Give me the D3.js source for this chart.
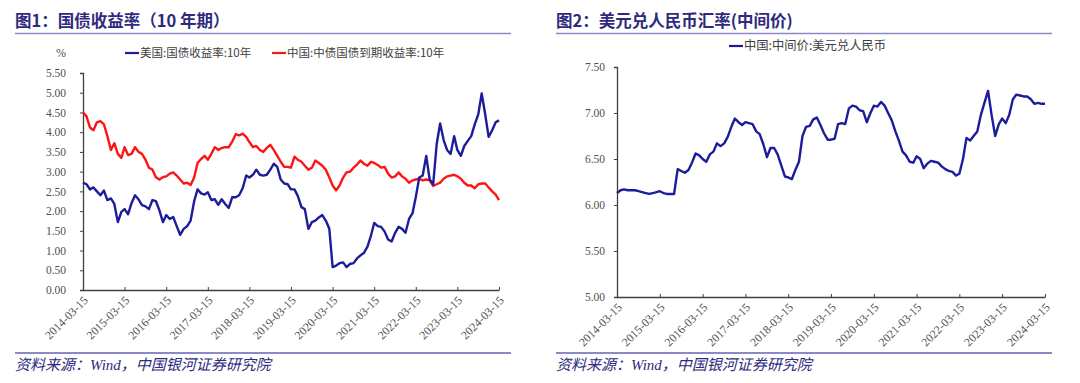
<!DOCTYPE html>
<html><head><meta charset="utf-8">
<script src="https://cdn.jsdelivr.net/npm/d3@7"></script>
<style>
body{margin:0;background:#fff;}
svg{display:block;}
</style></head>
<body><svg id="c" width="1080" height="383"></svg>
<script>
// ---------- data (monthly, mid-month, 2014-03 .. 2024-03) ----------
const startMonth = "2014-03-15";
const usYield = [
 2.72,2.68,2.55,2.60,2.50,2.40,2.52,2.28,2.32,2.18,
 1.72,1.98,2.05,1.92,2.20,2.40,2.30,2.15,2.12,2.05,2.28,2.25,
 2.02,1.72,1.90,1.80,1.85,1.62,1.40,1.55,1.62,1.76,2.25,2.55,
 2.45,2.42,2.48,2.28,2.30,2.16,2.30,2.18,2.08,2.35,2.35,2.40,
 2.58,2.90,2.85,2.92,3.05,2.92,2.90,2.92,3.05,3.20,3.12,2.80,
 2.70,2.68,2.55,2.55,2.38,2.10,2.05,1.55,1.72,1.76,1.84,1.90,
 1.76,1.55,0.58,0.62,0.68,0.70,0.58,0.66,0.68,0.80,0.88,0.94,
 1.10,1.38,1.70,1.62,1.60,1.48,1.28,1.23,1.45,1.60,1.55,1.45,
 1.80,1.95,2.35,2.85,2.90,3.40,2.80,2.68,3.70,4.22,3.80,3.55,
 3.45,3.90,3.55,3.40,3.65,3.78,3.90,4.20,4.45,4.98,4.45,3.88,
 4.05,4.25,4.30
];
const cnYield = [
 4.50,4.40,4.12,4.05,4.25,4.28,4.20,3.90,3.55,3.72,
 3.45,3.35,3.62,3.42,3.45,3.62,3.50,3.45,3.30,3.10,3.05,2.86,
 2.80,2.86,2.88,2.95,2.98,2.90,2.80,2.70,2.72,2.66,2.85,3.22,
 3.32,3.40,3.30,3.45,3.62,3.55,3.60,3.62,3.62,3.76,3.95,3.92,
 3.96,3.88,3.75,3.62,3.65,3.55,3.50,3.60,3.68,3.55,3.40,3.25,
 3.12,3.12,3.10,3.38,3.30,3.25,3.15,3.05,3.10,3.28,3.22,3.15,
 3.05,2.85,2.65,2.53,2.65,2.85,2.98,3.00,3.10,3.18,3.28,3.20,
 3.15,3.25,3.22,3.17,3.10,3.12,2.95,2.85,2.88,2.98,2.88,2.82,
 2.72,2.78,2.80,2.82,2.78,2.80,2.78,2.64,2.68,2.72,2.82,2.88,
 2.90,2.92,2.88,2.82,2.72,2.65,2.65,2.58,2.68,2.70,2.70,2.60,
 2.50,2.42,2.28
];
const usdCny = [
 6.13,6.16,6.17,6.16,6.16,6.16,6.15,6.14,6.13,6.12,
 6.13,6.14,6.15,6.13,6.12,6.12,6.12,6.39,6.37,6.35,6.38,6.46,
 6.56,6.54,6.50,6.47,6.55,6.58,6.67,6.64,6.67,6.74,6.85,6.94,
 6.90,6.87,6.90,6.89,6.88,6.80,6.77,6.66,6.52,6.62,6.62,6.55,
 6.43,6.31,6.30,6.28,6.38,6.47,6.75,6.85,6.86,6.93,6.95,6.87,
 6.78,6.71,6.71,6.72,6.88,6.89,6.88,7.05,7.08,7.07,7.03,7.02,
 6.90,7.00,7.08,7.07,7.12,7.08,7.00,6.92,6.80,6.70,6.58,6.54,
 6.47,6.46,6.53,6.50,6.40,6.45,6.48,6.47,6.46,6.42,6.39,6.37,
 6.36,6.32,6.34,6.50,6.73,6.70,6.75,6.80,6.98,7.11,7.24,6.98,
 6.75,6.88,6.94,6.89,6.98,7.15,7.20,7.19,7.18,7.18,7.15,7.10,
 7.11,7.10,7.10
];
const xTickLabels = ["2014-03-15","2015-03-15","2016-03-15","2017-03-15","2018-03-15","2019-03-15","2020-03-15","2021-03-15","2022-03-15","2023-03-15","2024-03-15"];
const leftYTicks = [0,0.5,1,1.5,2,2.5,3,3.5,4,4.5,5,5.5];
const rightYTicks = [5,5.5,6,6.5,7,7.5];
const titles = ["图1：国债收益率（10 年期）","图2：美元兑人民币汇率(中间价)"];
const leftLegend = ["美国:国债收益率:10年","中国:中债国债到期收益率:10年"];
const rightLegend = ["中国:中间价:美元兑人民币"];
const source = "资料来源：Wind，中国银河证券研究院";

// ---------- drawing ----------
const parse = d3.timeParse("%Y-%m-%d");
const t0 = parse(startMonth);
const dates = usYield.map((_, i) => d3.timeMonth.offset(t0, i));
const svg = d3.select("#c");
const titleColor = "#2e2a7e", ruleColor = "#8f88c8", textColor = "#505050", axisColor = "#404040";
const BLUE = "#1d1d9b", RED = "#ff1414";

function frame(x0, x1, title){
  svg.append("text").attr("x", x0).attr("y", 27).attr("fill", titleColor)
    .attr("font-family","'Noto Sans CJK SC'").attr("font-weight","bold").attr("font-size",16.5).text(title);
  svg.append("line").attr("x1",x0).attr("x2",x1).attr("y1",33.5).attr("y2",33.5).attr("stroke",ruleColor).attr("stroke-width",1.6);
  svg.append("line").attr("x1",x0).attr("x2",x1).attr("y1",353).attr("y2",353).attr("stroke",ruleColor).attr("stroke-width",2);
  svg.append("text").attr("x", x0).attr("y", 370).attr("fill", titleColor)
    .attr("font-family","'Liberation Serif','Noto Sans CJK SC'").attr("font-style","italic").attr("font-size",15).text(source);
}

function chart(cfg){
  const x = d3.scaleTime().domain([parse(xTickLabels[0]), parse(xTickLabels[xTickLabels.length-1])]).range(cfg.xr);
  const y = d3.scaleLinear().domain(cfg.yd).range(cfg.yr);
  const g = svg.append("g");
  const ya = g.append("g").attr("transform",`translate(${cfg.xr[0]},0)`)
    .call(d3.axisLeft(y).tickValues(cfg.yTicks).tickFormat(d3.format(".2f")).tickSize(3).tickPadding(cfg.yPad));
  ya.select(".domain").attr("stroke",axisColor).attr("stroke-width",1.3);
  ya.selectAll(".tick line").attr("stroke",axisColor);
  ya.selectAll("text").attr("fill",textColor).attr("font-family","'Liberation Serif'").attr("font-size",11.5);
  const xa = g.append("g").attr("transform",`translate(0,${cfg.yr[0]})`)
    .call(d3.axisBottom(x).tickValues(xTickLabels.map(parse)).tickFormat(d3.timeFormat("%Y-%m-%d")).tickSizeInner(-3).tickSizeOuter(0));
  xa.select(".domain").attr("stroke",axisColor).attr("stroke-width",1.3);
  xa.selectAll(".tick line").attr("stroke",axisColor);
  xa.selectAll("text").attr("fill",textColor).attr("font-family","'Liberation Serif'").attr("font-size",11.8)
    .attr("text-anchor","end").attr("dy",0).attr("transform","translate(3,9) rotate(-45)");
  cfg.series.forEach(s => {
    g.append("path").datum(s.values)
      .attr("fill","none").attr("stroke",s.color).attr("stroke-width",2.4).attr("stroke-linejoin","round")
      .attr("d", d3.line().x((d,i)=>x(dates[i])).y(d=>y(d)));
  });
  cfg.legend.forEach(l => {
    g.append("line").attr("x1",l.x).attr("x2",l.x+14).attr("y1",l.y).attr("y2",l.y).attr("stroke",l.color).attr("stroke-width",2.2);
    g.append("text").attr("x",l.x+15).attr("y",l.y+4).attr("fill","#404040")
      .attr("font-family","'Noto Sans CJK SC'").attr("font-size",l.size).text(l.text);
  });
}

frame(15, 511, titles[0]);
frame(556, 1052, titles[1]);

svg.append("text").attr("x",61).attr("y",57).attr("text-anchor","middle").attr("fill",textColor)
  .attr("font-family","'Liberation Serif'").attr("font-size",12).text("%");

chart({xr:[83,499], yd:[0,5.5], yr:[290,73], yTicks:leftYTicks, yPad:14,
  series:[{values:cnYield,color:RED},{values:usYield,color:BLUE}],
  legend:[{x:125,y:53,color:BLUE,text:leftLegend[0],size:11.5},{x:272,y:53,color:RED,text:leftLegend[1],size:11.5}]});

chart({xr:[617,1045], yd:[5,7.5], yr:[297,67], yTicks:rightYTicks, yPad:9,
  series:[{values:usdCny,color:BLUE}],
  legend:[{x:729,y:46,color:BLUE,text:rightLegend[0],size:12.3}]});
</script></body></html>
